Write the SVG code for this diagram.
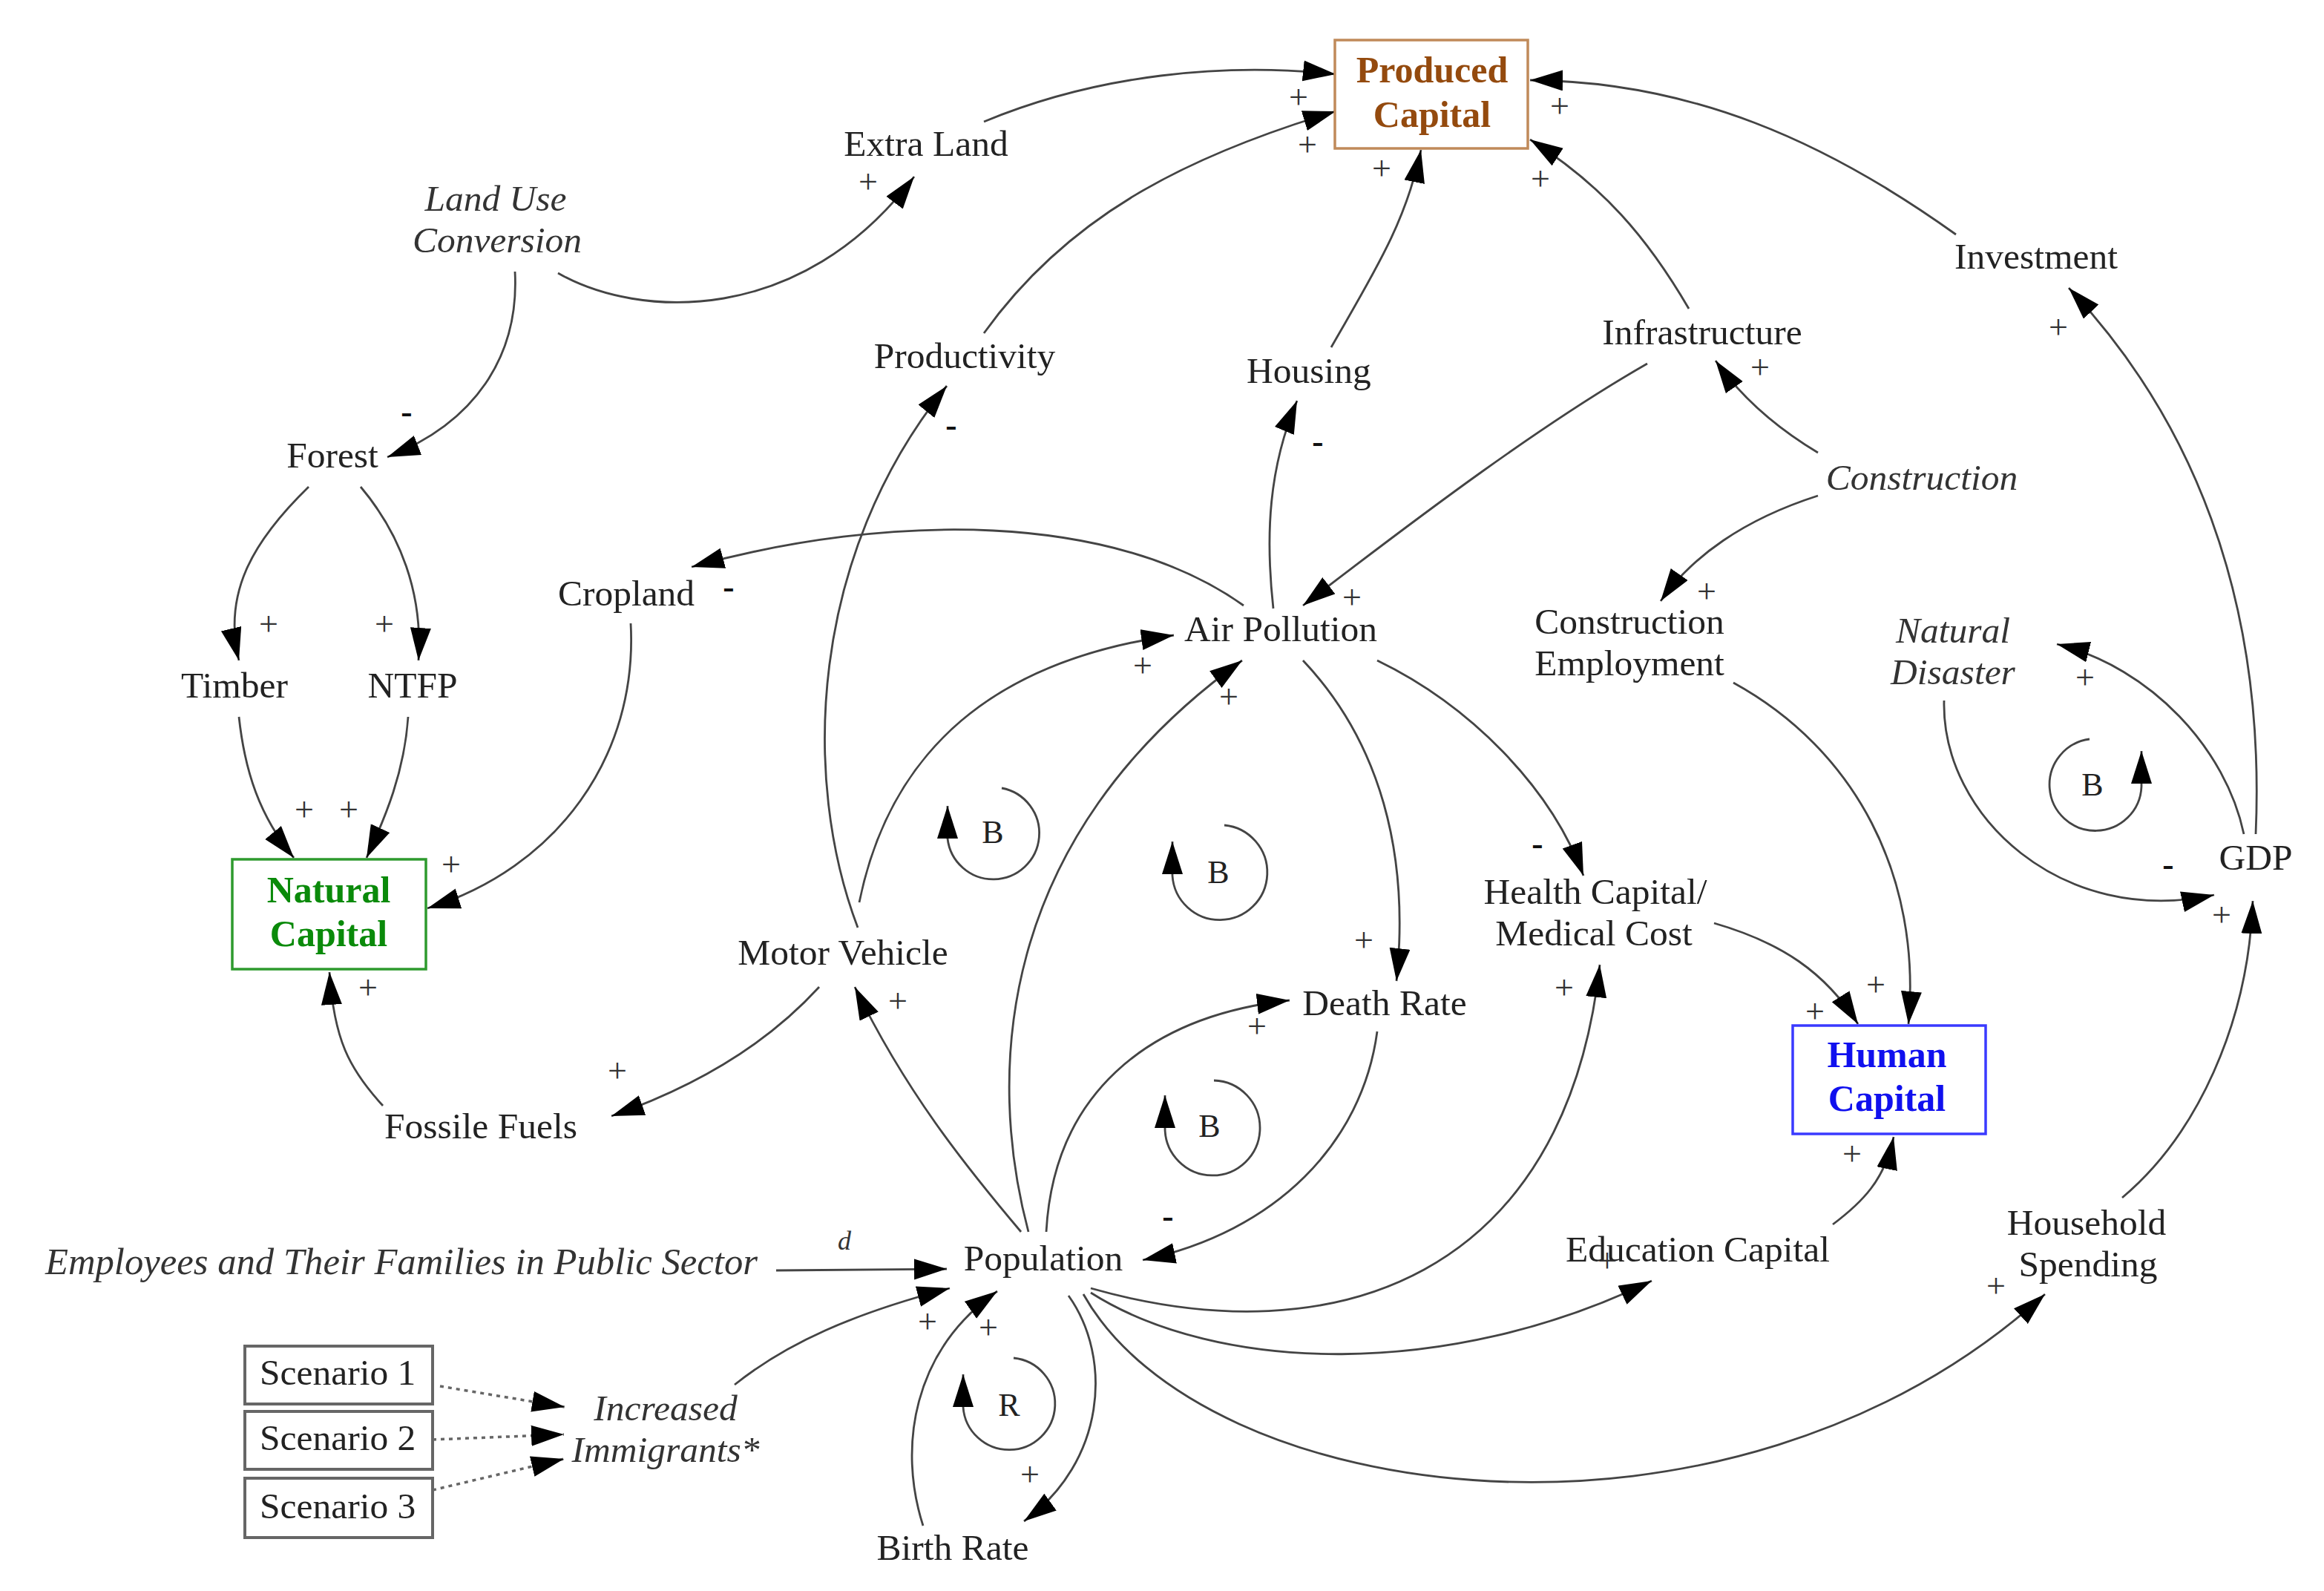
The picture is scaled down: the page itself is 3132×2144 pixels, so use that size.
<svg xmlns="http://www.w3.org/2000/svg" width="3132" height="2144" viewBox="0 0 3132 2144">
<style>
text{font-family:"Liberation Serif","Times New Roman",serif;font-size:49.5px;fill:#222;text-anchor:middle}
.i{font-style:italic;fill:#333}
.b{font-weight:700;font-size:50px}
.s{font-size:46px;fill:#333}
.m{font-size:46px;font-weight:700;fill:#111}
.l{font-size:44px}
.c{fill:none;stroke:#444;stroke-width:2.8;marker-end:url(#a)}
.d{stroke-dasharray:5 6;stroke-width:3.5;stroke:#666}
.box{fill:#fff;stroke-width:3.5}
.sc{fill:#fff;stroke:#666;stroke-width:4}
.lt{text-anchor:start}
.pc{fill:#944a0e}
.nc{fill:#0a8a0a}
.hc{fill:#1010ee}
</style>
<defs>
<marker id="a" markerUnits="userSpaceOnUse" markerWidth="46" markerHeight="30" refX="44" refY="14" orient="auto"><path d="M0,0 L44,14 L0,28z" fill="#000"/></marker>
</defs>
<rect width="3132" height="2144" fill="#fff"/>
<g id="connectors">
<path class="c" d="M1326,164 C1480,100 1650,84 1800,100"/>
<path class="c" d="M752,368 C860,430 1080,440 1232,238"/>
<path class="c" d="M694,366 C700,480 640,570 522,616"/>
<path class="c" d="M1326,449 C1440,290 1600,210 1800,150"/>
<path class="c" d="M1794,468 C1850,370 1895,300 1915,202"/>
<path class="c" d="M2276,416 C2220,320 2160,250 2062,188"/>
<path class="c" d="M2220,490 C2080,570 1920,690 1756,816"/>
<path class="c" d="M2636,316 C2460,190 2280,110 2062,108"/>
<path class="c" d="M3040,1124 C3054,800 2950,560 2788,388"/>
<path class="c" d="M2450,610 C2400,580 2350,540 2312,486"/>
<path class="c" d="M2450,668 C2350,700 2280,750 2238,810"/>
<path class="c" d="M1716,820 C1705,720 1710,630 1748,540"/>
<path class="c" d="M1156,1250 C1080,1050 1090,750 1276,520"/>
<path class="c" d="M1676,816 C1500,690 1200,690 932,764"/>
<path class="c" d="M850,840 C860,1020 750,1170 576,1224"/>
<path class="c" d="M416,656 C340,730 300,800 322,890"/>
<path class="c" d="M486,656 C540,720 570,800 564,890"/>
<path class="c" d="M322,966 C330,1040 350,1100 396,1156"/>
<path class="c" d="M550,966 C545,1040 520,1100 494,1156"/>
<path class="c" d="M516,1490 C470,1440 450,1400 444,1310"/>
<path class="c" d="M1104,1330 C1040,1400 950,1460 824,1504"/>
<path class="c" d="M1158,1216 C1200,1010 1340,890 1582,856"/>
<path class="c" d="M1376,1660 C1300,1570 1220,1470 1152,1330"/>
<path class="c" d="M1386,1660 C1330,1450 1340,1130 1674,890"/>
<path class="c" d="M1410,1660 C1420,1480 1540,1370 1738,1348"/>
<path class="c" d="M1756,890 C1860,1000 1900,1150 1882,1322"/>
<path class="c" d="M1856,890 C1980,950 2090,1060 2134,1180"/>
<path class="c" d="M1856,1390 C1836,1540 1720,1660 1540,1698"/>
<path class="c" d="M1470,1736 C1800,1830 2110,1720 2156,1300"/>
<path class="c" d="M1470,1742 C1640,1850 1950,1860 2226,1726"/>
<path class="c" d="M1460,1744 C1620,2030 2330,2130 2756,1744"/>
<path class="c" d="M1440,1746 C1500,1830 1490,1970 1380,2050"/>
<path class="c" d="M1244,2056 C1210,1950 1230,1820 1344,1740"/>
<path class="c" d="M1046,1712 L1276,1710"/>
<path class="c" d="M990,1866 C1060,1810 1150,1770 1280,1736"/>
<path class="c d" d="M593,1868 L761,1896"/>
<path class="c d" d="M583,1940 L760,1933"/>
<path class="c d" d="M583,2008 L760,1966"/>
<path class="c" d="M2310,1244 C2400,1270 2460,1310 2504,1380"/>
<path class="c" d="M2336,920 C2500,1010 2590,1180 2572,1380"/>
<path class="c" d="M2470,1650 C2510,1620 2540,1590 2552,1532"/>
<path class="c" d="M2860,1614 C2960,1530 3030,1380 3036,1214"/>
<path class="c" d="M2620,944 C2616,1100 2780,1250 2984,1206"/>
<path class="c" d="M3024,1124 C3000,1010 2900,900 2772,868"/>
<path class="c" d="M1350,1062 A62,62 0 1 1 1277,1130 L1277,1086"/>
<path class="c" d="M1650,1112 A64,64 0 1 1 1580,1180 L1580,1134"/>
<path class="c" d="M1636,1456 A64,64 0 1 1 1570,1520 L1570,1476"/>
<path class="c" d="M1366,1830 A62,62 0 1 1 1298,1896 L1298,1852"/>
<path class="c" d="M2816,996 A62,62 0 1 0 2886,1060 L2886,1012"/>
</g>
<g id="node-produced-capital"><rect class="box" x="1799" y="54" width="260" height="146" stroke="#c08a5a"/><text class="b pc" x="1930" y="111">Produced</text><text class="b pc" x="1930" y="171">Capital</text></g>
<g id="node-natural-capital"><rect class="box" x="313" y="1158" width="261" height="148" stroke="#2e9a2e"/><text class="b nc" x="443" y="1216">Natural</text><text class="b nc" x="443" y="1275">Capital</text></g>
<g id="node-human-capital"><rect class="box" x="2416" y="1382" width="260" height="146" stroke="#3a3aff"/><text class="b hc" x="2543" y="1438">Human</text><text class="b hc" x="2543" y="1497">Capital</text></g>
<g id="node-extra-land"><text x="1248" y="210">Extra Land</text></g>
<g id="node-land-use-conversion"><text class="i" x="668" y="284">Land Use</text><text class="i" x="670" y="340">Conversion</text></g>
<g id="node-forest"><text x="448" y="630">Forest</text></g>
<g id="node-timber"><text x="316" y="940">Timber</text></g>
<g id="node-ntfp"><text x="556" y="940">NTFP</text></g>
<g id="node-cropland"><text x="844" y="816">Cropland</text></g>
<g id="node-productivity"><text x="1300" y="496">Productivity</text></g>
<g id="node-housing"><text x="1764" y="516">Housing</text></g>
<g id="node-infrastructure"><text x="2294" y="464">Infrastructure</text></g>
<g id="node-investment"><text x="2744" y="362">Investment</text></g>
<g id="node-construction"><text class="i" x="2590" y="660">Construction</text></g>
<g id="node-air-pollution"><text x="1726" y="864">Air Pollution</text></g>
<g id="node-construction-employment"><text x="2196" y="854">Construction</text><text x="2196" y="910">Employment</text></g>
<g id="node-natural-disaster"><text class="i" x="2632" y="866">Natural</text><text class="i" x="2632" y="922">Disaster</text></g>
<g id="node-gdp"><text x="3040" y="1172">GDP</text></g>
<g id="node-health-capital"><text x="2150" y="1218">Health Capital/</text><text x="2148" y="1274">Medical Cost</text></g>
<g id="node-motor-vehicle"><text x="1136" y="1300">Motor Vehicle</text></g>
<g id="node-death-rate"><text x="1866" y="1368">Death Rate</text></g>
<g id="node-fossile-fuels"><text x="648" y="1534">Fossile Fuels</text></g>
<g id="node-education-capital"><text x="2288" y="1700">Education Capital</text></g>
<g id="node-household-spending"><text x="2812" y="1664">Household</text><text x="2814" y="1720">Spending</text></g>
<g id="node-population"><text x="1406" y="1712">Population</text></g>
<g id="node-employees"><text class="i" x="541" y="1717" style="font-size:50.7px">Employees and Their Families in Public Sector</text></g>
<g id="node-increased-immigrants"><text class="i" x="897" y="1914">Increased</text><text class="i" x="897" y="1970">Immigrants*</text></g>
<g id="node-birth-rate"><text x="1284" y="2102">Birth Rate</text></g>
<g id="node-scenario-1"><rect class="sc" x="330" y="1814" width="253" height="78"/><text class="lt" x="350" y="1866">Scenario 1</text></g>
<g id="node-scenario-2"><rect class="sc" x="330" y="1902" width="253" height="78"/><text class="lt" x="350" y="1954">Scenario 2</text></g>
<g id="node-scenario-3"><rect class="sc" x="330" y="1992" width="253" height="80"/><text class="lt" x="350" y="2046">Scenario 3</text></g>
<g id="labels">
<text class="i" x="1138" y="1684" style="font-size:36px">d</text>
<text class="l" x="1338" y="1136">B</text><text class="l" x="1642" y="1190">B</text><text class="l" x="1630" y="1532">B</text><text class="l" x="1360" y="1908">R</text><text class="l" x="2820" y="1072">B</text>
<text class="s" x="1750" y="146">+</text><text class="s" x="1762" y="210">+</text><text class="s" x="2102" y="158">+</text><text class="s" x="1862" y="242">+</text><text class="s" x="2076" y="256">+</text><text class="s" x="1170" y="260">+</text><text class="s" x="2372" y="510">+</text><text class="s" x="2774" y="456">+</text><text class="s" x="1822" y="820">+</text><text class="s" x="2300" y="812">+</text><text class="s" x="362" y="856">+</text><text class="s" x="518" y="856">+</text><text class="s" x="1540" y="912">+</text><text class="s" x="1656" y="954">+</text><text class="s" x="2810" y="928">+</text><text class="s" x="410" y="1106">+</text><text class="s" x="470" y="1106">+</text><text class="s" x="608" y="1180">+</text><text class="s" x="496" y="1346">+</text><text class="s" x="1210" y="1364">+</text><text class="s" x="832" y="1458">+</text><text class="s" x="1838" y="1282">+</text><text class="s" x="1694" y="1398">+</text><text class="s" x="2108" y="1346">+</text><text class="s" x="2528" y="1342">+</text><text class="s" x="2446" y="1378">+</text><text class="s" x="2994" y="1248">+</text><text class="s" x="2496" y="1570">+</text><text class="s" x="2166" y="1714">+</text><text class="s" x="2690" y="1748">+</text><text class="s" x="1250" y="1796">+</text><text class="s" x="1332" y="1804">+</text><text class="s" x="1388" y="2002">+</text>
<text class="m" x="548" y="570">-</text><text class="m" x="1282" y="588">-</text><text class="m" x="1776" y="610">-</text><text class="m" x="982" y="806">-</text><text class="m" x="2072" y="1152">-</text><text class="m" x="2922" y="1180">-</text><text class="m" x="1574" y="1654">-</text>
</g>
</svg>
